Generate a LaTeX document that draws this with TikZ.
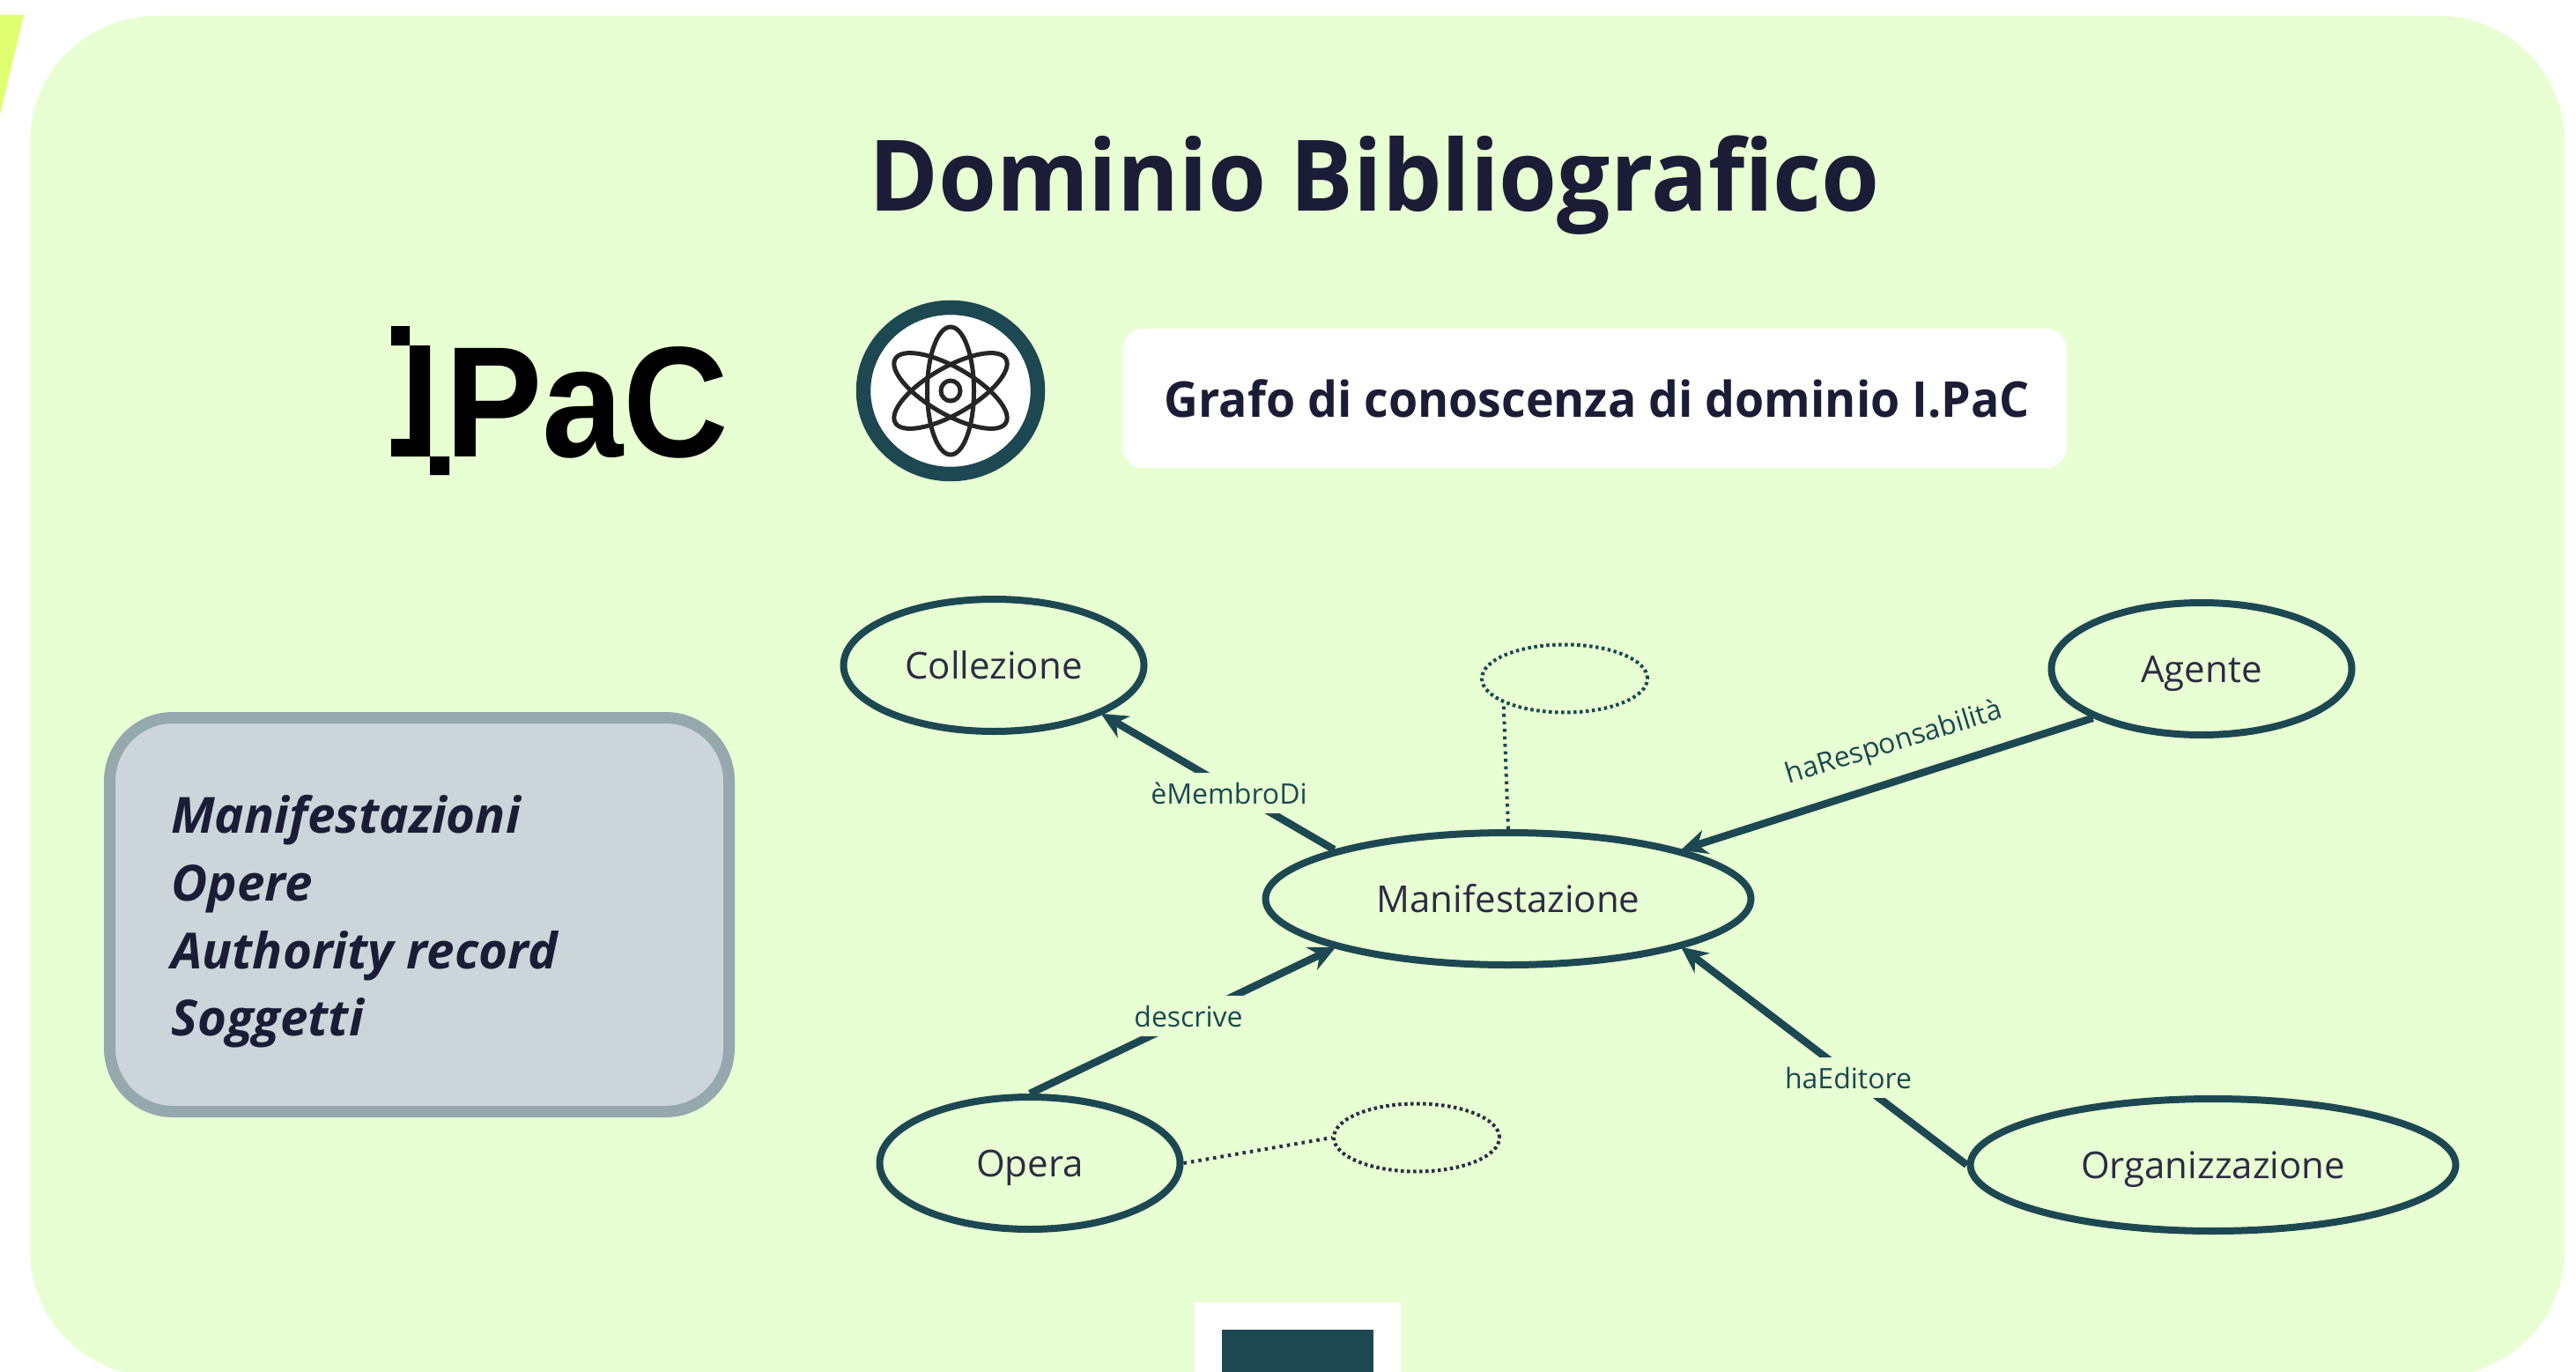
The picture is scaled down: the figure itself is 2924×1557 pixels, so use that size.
\documentclass[tikz,border=0pt]{standalone}
\usepackage{fontspec}
\setmainfont{Open Sans}
\newfontfamily\logofont{Liberation Sans}
\usetikzlibrary{arrows.meta,shapes.geometric,calc}
\definecolor{panel}{HTML}{E7FFD2}
\definecolor{lime}{HTML}{DFFF70}
\definecolor{teal}{HTML}{1D4852}
\definecolor{navy}{HTML}{1B1D36}
\definecolor{ink}{HTML}{2E2A45}
\definecolor{boxfill}{HTML}{CCD5D9}
\definecolor{boxline}{HTML}{95A8AE}
\tikzset{
 x=1pt,y=-1pt,
 concept/.style={ellipse,draw=teal,line width=8pt,inner sep=0pt,text=ink,text height=40pt,text depth=8.5pt,font=\fontsize{42}{50}\selectfont},
 ghost/.style={ellipse,draw=teal,line width=4pt,dash pattern=on 3.5pt off 3.5pt,inner sep=0pt},
 rel/.style={draw=teal,line width=8.5pt,-{Stealth[length=30pt,width=28pt]},shorten >=-2pt},
 dot/.style={draw=teal,line width=4pt,dash pattern=on 3.5pt off 5pt},
 rellabel/.style={fill=panel,text=teal,inner sep=3pt,minimum height=46pt,font=\fontsize{32}{40}\selectfont},
}
\begin{document}
\begin{tikzpicture}
\useasboundingbox (0,0) rectangle (2924,1557);
\fill[white] (0,0) rectangle (2924,1557);
\begin{scope}
\clip (0,0) rectangle (2924,1557);
\fill[lime] (0,17) -- (27,17) -- (0,130) -- cycle;
\fill[panel,rounded corners=143pt] (34,18) rectangle (2911,1562);
\fill[white] (1356,1478) rectangle (1590,1600);
\fill[teal] (1387,1509) rectangle (1559,1600);
\end{scope}
\node[anchor=base,xscale=.953,text=navy,font=\fontsize{112}{130}\selectfont\bfseries] (title) at (1560,240) {Dominio Bibliografico};
% logo
\fill[black] (444,370) rectangle (465,392) (465,392) rectangle (488,518) (444,498) rectangle (465,518) (488,518) rectangle (510,539);
\node[anchor=base west,inner sep=0pt,xscale=.925,font=\logofont\fontsize{179}{190}\selectfont\bfseries] (logo) at (505,518) {PaC};
% atom
\draw[teal,line width=16.5pt,fill=white] (1079,443.5) ellipse (99 and 94.5);
\begin{scope}[draw=black!85,line width=5pt]
\draw (1079,443.5) ellipse (11 and 11.5);
\draw (1079,443.5) ellipse (26.5 and 72.5);
\draw[rotate around={60:(1079,443.5)}] (1079,443.5) ellipse (26.5 and 72.5);
\draw[rotate around={-60:(1079,443.5)}] (1079,443.5) ellipse (26.5 and 72.5);
\end{scope}
\node[fill=white,rounded corners=24pt,minimum width=1072pt,minimum height=158pt] (kg) at (1810,452) {};
\node[anchor=base,xscale=.958,text=navy,font=\fontsize{56}{66}\selectfont\bfseries] (kgtext) at (1813,473) {Grafo di conoscenza di dominio I.PaC};
\node[draw=boxline,fill=boxfill,line width=13pt,rounded corners=72pt,minimum width=703pt,minimum height=447pt] (box) at (476,1038) {};
\node[anchor=west,align=left,text=navy,inner sep=0pt,font=\fontsize{56.5}{76.7}\selectfont\bfseries\itshape] (list) at (194,1046) {Manifestazioni\\Opere\\Authority record\\Soggetti};
% nodes
\node[concept,minimum width=341pt,minimum height=150pt] (coll) at (1128,755) {Collezione};
\node[concept,minimum width=341pt,minimum height=150pt] (agente) at (2499,759) {Agente};
\node[concept,minimum width=551pt,minimum height=150pt] (man) at (1712,1020) {Manifestazione};
\node[concept,minimum width=341pt,minimum height=150pt] (opera) at (1169,1320) {Opera};
\node[concept,minimum width=551pt,minimum height=150pt] (org) at (2512,1322) {Organizzazione};
\node[ghost,minimum width=188pt,minimum height=77pt] (g1) at (1776,770) {};
\node[ghost,draw=ink,minimum width=188pt,minimum height=77pt] (g2) at (1608,1291) {};
\draw[dot] (man.north) -- (g1.202);
\draw[dot,draw=ink] (opera.east) -- (g2.west);
\draw[rel] (man.north west) -- (coll.south east);
\draw[rel] (opera.north) -- (man.south west);
\draw[rel] (agente.south west) -- (man.north east);
\draw[rel] (org.west) -- (man.south east);
\node[rellabel] (l1) at (1395,900) {èMembroDi};
\node[rellabel] (l2) at (1349,1153) {descrive};
\node[rellabel,rotate=17,fill=none] (l3) at (2150,844) {haResponsabilità};
\node[rellabel] (l4) at (2098,1223) {haEditore};
\end{tikzpicture}
\end{document}
